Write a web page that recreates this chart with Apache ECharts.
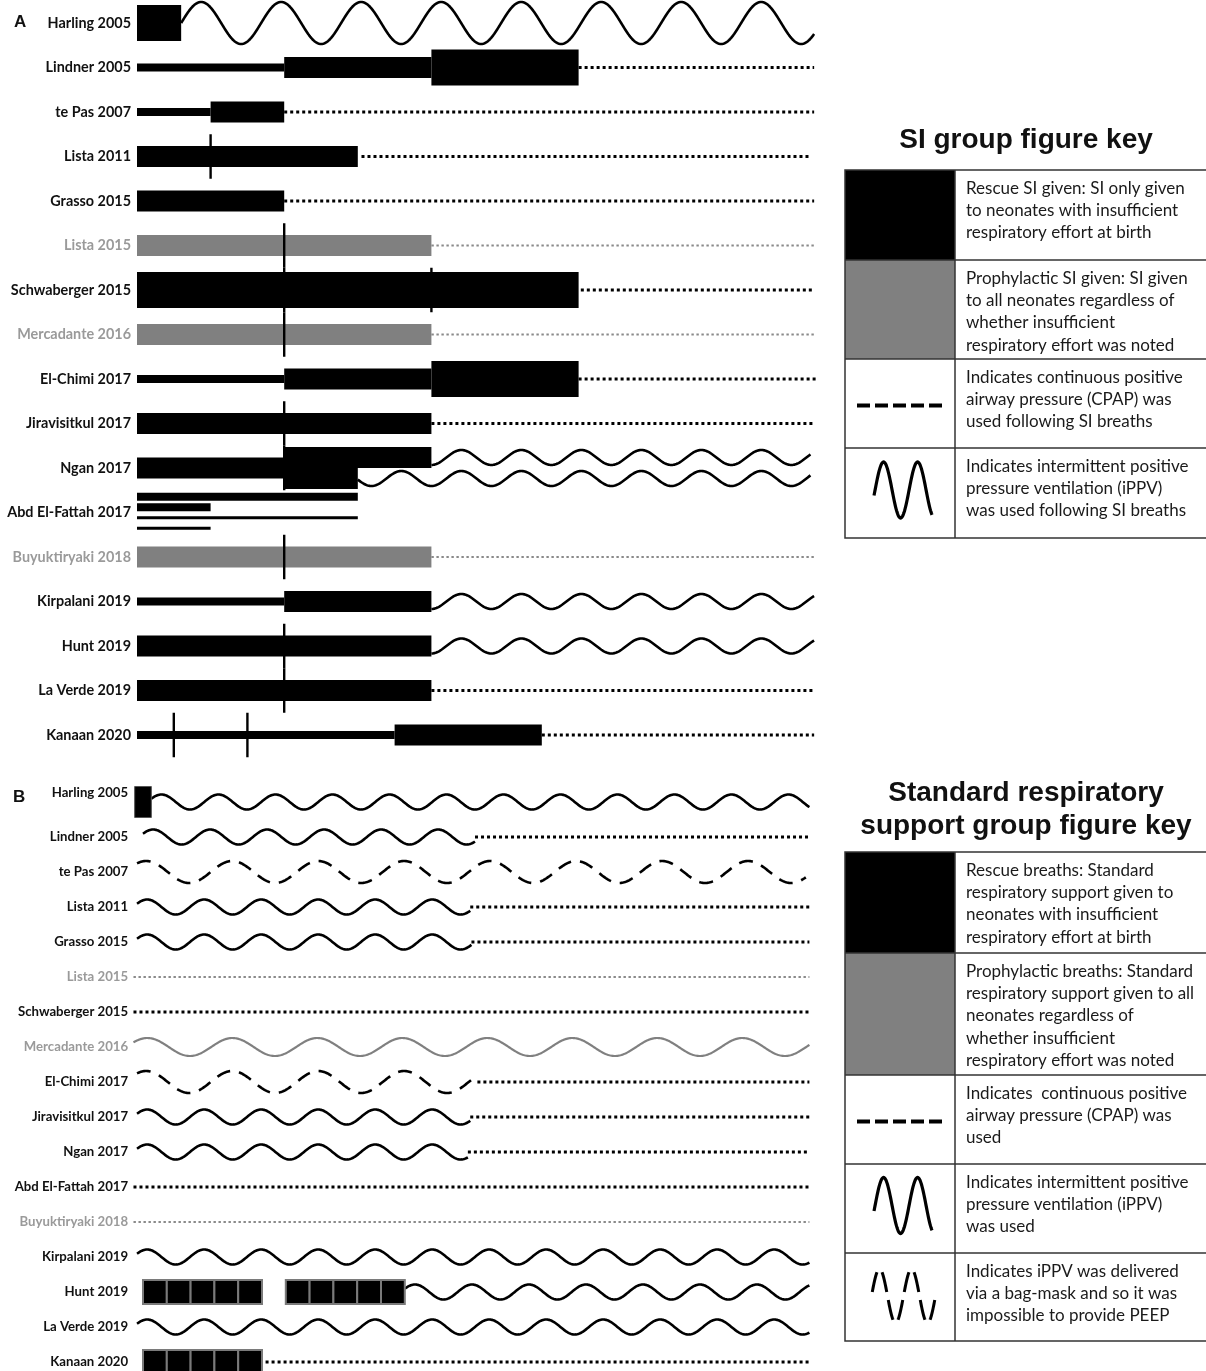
<!DOCTYPE html>
<html>
<head>
<meta charset="utf-8">
<script src="https://cdn.jsdelivr.net/npm/echarts@6/dist/echarts.min.js"></script>
<style>
  html, body { margin: 0; padding: 0; background: #fff; }
  #chart { width: 1206px; height: 1371px; }
</style>
</head>
<body>
<div id="chart"></div>
<script>
// ---------------------------------------------------------------------------
// Studies (rows, top to bottom) and which ones gave breaths prophylactically
// ---------------------------------------------------------------------------
const studies = [
  'Harling 2005', 'Lindner 2005', 'te Pas 2007', 'Lista 2011', 'Grasso 2015',
  'Lista 2015', 'Schwaberger 2015', 'Mercadante 2016', 'El-Chimi 2017',
  'Jiravisitkul 2017', 'Ngan 2017', 'Abd El-Fattah 2017', 'Buyuktiryaki 2018',
  'Kirpalani 2019', 'Hunt 2019', 'La Verde 2019', 'Kanaan 2020'
];
const prophylactic = ['Lista 2015', 'Mercadante 2016', 'Buyuktiryaki 2018'];

// ---------------------------------------------------------------------------
// Panel A – SI group. x = protocol step.
// blocks: [study, from, to, level, sub-row]   level: peep | si | high | line
// ---------------------------------------------------------------------------
const siBlocks = [
  ['Harling 2005', 0, 0.6, 'high', 0],
  ['Lindner 2005', 0, 2, 'peep', 0], ['Lindner 2005', 2, 4, 'si', 0], ['Lindner 2005', 4, 6, 'high', 0],
  ['te Pas 2007', 0, 1, 'peep', 0], ['te Pas 2007', 1, 2, 'si', 0],
  ['Lista 2011', 0, 3, 'si', 0],
  ['Grasso 2015', 0, 2, 'si', 0],
  ['Lista 2015', 0, 4, 'si', 0],
  ['Schwaberger 2015', 0, 6, 'high', 0],
  ['Mercadante 2016', 0, 4, 'si', 0],
  ['El-Chimi 2017', 0, 2, 'peep', 0], ['El-Chimi 2017', 2, 4, 'si', 0], ['El-Chimi 2017', 4, 6, 'high', 0],
  ['Jiravisitkul 2017', 0, 4, 'si', 0],
  ['Ngan 2017', 0, 2, 'si', 0], ['Ngan 2017', 2, 4, 'si', -1], ['Ngan 2017', 2, 3, 'si', 1],
  ['Abd El-Fattah 2017', 0, 3, 'peep', -1.5], ['Abd El-Fattah 2017', 0, 1, 'peep', -0.5],
  ['Abd El-Fattah 2017', 0, 3, 'line', 0.5], ['Abd El-Fattah 2017', 0, 1, 'line', 1.5],
  ['Buyuktiryaki 2018', 0, 4, 'si', 0],
  ['Kirpalani 2019', 0, 2, 'peep', 0], ['Kirpalani 2019', 2, 4, 'si', 0],
  ['Hunt 2019', 0, 4, 'si', 0],
  ['La Verde 2019', 0, 4, 'si', 0],
  ['Kanaan 2020', 0, 3.5, 'peep', 0], ['Kanaan 2020', 3.5, 5.5, 'si', 0]
];
// vertical markers: [study, step]
const siMarkers = [
  ['Lista 2011', 1], ['Lista 2015', 2], ['Schwaberger 2015', 2], ['Schwaberger 2015', 4],
  ['Mercadante 2016', 2], ['Jiravisitkul 2017', 2], ['Ngan 2017', 2], ['Buyuktiryaki 2018', 2],
  ['Hunt 2019', 2], ['La Verde 2019', 2], ['Kanaan 2020', 0.5], ['Kanaan 2020', 1.5]
];
// iPPV after SI: [study, from, to, waveform, sub-row]
const siWaves = [
  ['Harling 2005', 0.6, 9.2, 'large', 0],
  ['Ngan 2017', 4, 9.15, 'ippv', -1],
  ['Ngan 2017', 3, 9.15, 'ippv', 1],
  ['Kirpalani 2019', 4, 9.2, 'ippv', 0],
  ['Hunt 2019', 4, 9.2, 'ippv', 0]
];
// CPAP after SI: [study, from, to]
const siCpap = [
  ['Lindner 2005', 6, 9.2], ['te Pas 2007', 2, 9.2], ['Lista 2011', 3.05, 9.15],
  ['Grasso 2015', 2, 9.2], ['Lista 2015', 4, 9.2], ['Schwaberger 2015', 6.03, 9.2],
  ['Mercadante 2016', 4, 9.2], ['El-Chimi 2017', 6, 9.25], ['Jiravisitkul 2017', 4, 9.2],
  ['Buyuktiryaki 2018', 4, 9.2], ['La Verde 2019', 4, 9.2], ['Kanaan 2020', 5.5, 9.2]
];

// ---------------------------------------------------------------------------
// Panel B – standard respiratory support group. x = breath count.
// ---------------------------------------------------------------------------
const srsRescue = [['Harling 2005', -0.35, 0.35]];
const srsBreaths = [['Hunt 2019', 0, 5], ['Hunt 2019', 6, 11], ['Kanaan 2020', 0, 5]];
// [study, from, to, waveform]
const srsWaves = [
  ['Harling 2005', 0.35, 28, 'ippv'],
  ['Lindner 2005', 0, 13.95, 'ippv'],
  ['te Pas 2007', -0.25, 27.85, 'bagMask'],
  ['Lista 2011', -0.25, 13.75, 'ippv'],
  ['Grasso 2015', -0.25, 13.8, 'ippv'],
  ['Mercadante 2016', -0.4, 28, 'ippvSlow'],
  ['El-Chimi 2017', -0.25, 14.05, 'bagMask'],
  ['Jiravisitkul 2017', -0.25, 13.75, 'ippv'],
  ['Ngan 2017', -0.25, 13.65, 'ippv'],
  ['Kirpalani 2019', -0.25, 28, 'ippv'],
  ['Hunt 2019', 11, 28, 'ippv'],
  ['La Verde 2019', -0.25, 28, 'ippv']
];
const srsCpap = [
  ['Lindner 2005', 13.95, 28], ['Lista 2011', 13.75, 28], ['Grasso 2015', 13.8, 28],
  ['Lista 2015', -0.4, 28], ['Schwaberger 2015', -0.4, 28], ['El-Chimi 2017', 14.05, 28],
  ['Jiravisitkul 2017', 13.75, 28], ['Ngan 2017', 13.65, 28], ['Abd El-Fattah 2017', -0.4, 28],
  ['Buyuktiryaki 2018', -0.4, 28], ['Kanaan 2020', 5.15, 28]
];

// Figure keys
const keySI = [
  'Rescue SI given: SI only given\nto neonates with insufficient\nrespiratory effort at birth',
  'Prophylactic SI given: SI given\nto all neonates regardless of\nwhether insufficient\nrespiratory effort was noted',
  'Indicates continuous positive\nairway pressure (CPAP) was\nused following SI breaths',
  'Indicates intermittent positive\npressure ventilation (iPPV)\nwas used following SI breaths'
];
const keySRS = [
  'Rescue breaths: Standard\nrespiratory support given to\nneonates with insufficient\nrespiratory effort at birth',
  'Prophylactic breaths: Standard\nrespiratory support given to all\nneonates regardless of\nwhether insufficient\nrespiratory effort was noted',
  'Indicates  continuous positive\nairway pressure (CPAP) was\nused',
  'Indicates intermittent positive\npressure ventilation (iPPV)\nwas used',
  'Indicates iPPV was delivered\nvia a bag-mask and so it was\nimpossible to provide PEEP'
];

// ---------------------------------------------------------------------------
// Styling
// ---------------------------------------------------------------------------
const BLACK = '#000';
const GREY = '#808080';
const GREY_DOT = '#8a8a8a';
const LABEL_FONT = "Lato, 'Open Sans', sans-serif";
const KEY_FONT = "Lato, 'Open Sans', sans-serif";
const isProph = s => prophylactic.indexOf(s) >= 0;
const rowOf = s => studies.indexOf(s);
const blockHeight = { peep: 8, si: 21, high: 36, line: 3 };
const SUBROW = 0.236;               // sub-row spacing as a share of the row band
const waveA = {
  large: { period: 80, amp: 21, phase: 0, width: 2.6 },
  ippv:  { period: 60, amp: 7.5, phase: -Math.PI / 2, width: 2.6, anchor: 4 }
};
const waveB = {
  ippv:     { period: 57, amp: 7.5, phase: 0.45, width: 2.6 },
  bagMask:  { period: 86, amp: 11, phase: 0.9, width: 2.6, dash: [14, 9] },
  ippvSlow: { period: 85, amp: 9, phase: 0.54, width: 2.2 }
};

const toData = list => list.map(d => [d[1], d.length > 2 && typeof d[2] === 'number' ? d[2] : d[1], rowOf(d[0])]);

function blockItem(list) {
  return (params, api) => {
    const d = list[params.dataIndex];
    const row = rowOf(d[0]);
    const band = api.size([0, 1])[1];
    const a = api.coord([d[1], row]), b = api.coord([d[2], row]);
    const h = blockHeight[d[3]];
    const cy = a[1] + (d[4] || 0) * SUBROW * band;
    return {
      type: 'rect',
      shape: { x: a[0], y: cy - h / 2, width: b[0] - a[0], height: h },
      style: { fill: isProph(d[0]) ? GREY : BLACK }
    };
  };
}

function markerItem(list) {
  return (params, api) => {
    const d = list[params.dataIndex];
    const row = rowOf(d[0]);
    const band = api.size([0, 1])[1];
    const p = api.coord([d[1], row]);
    return {
      type: 'line',
      shape: { x1: p[0], y1: p[1] - band / 2, x2: p[0], y2: p[1] + band / 2 },
      style: { stroke: BLACK, lineWidth: 2.4 }
    };
  };
}

function cpapItem(list) {
  return (params, api) => {
    const d = list[params.dataIndex];
    const row = rowOf(d[0]);
    const a = api.coord([d[1], row]), b = api.coord([d[2], row]);
    const g = isProph(d[0]);
    return {
      type: 'line',
      shape: { x1: a[0], y1: a[1], x2: b[0], y2: b[1] },
      style: { stroke: g ? GREY_DOT : BLACK, lineWidth: g ? 2.2 : 3, lineDash: g ? [2.4, 2.6] : [3, 3] }
    };
  };
}

function waveItem(list, styles) {
  return (params, api) => {
    const d = list[params.dataIndex];
    const row = rowOf(d[0]);
    const st = styles[d[3]];
    const band = api.size([0, 1])[1];
    const a = api.coord([d[1], row]), b = api.coord([d[2], row]);
    const cy = a[1] + (d[4] || 0) * SUBROW * band;
    const ref = st.anchor != null ? api.coord([st.anchor, row])[0] : a[0];
    const pts = [];
    const yAt = x => cy - st.amp * Math.sin(2 * Math.PI * (x - ref) / st.period + st.phase);
    for (let x = a[0]; x < b[0]; x += 1) pts.push([x, yAt(x)]);
    pts.push([b[0], yAt(b[0])]);
    return {
      type: 'polyline',
      shape: { points: pts },
      style: {
        stroke: isProph(d[0]) ? GREY : BLACK, lineWidth: st.width, fill: null,
        lineDash: st.dash || null, lineJoin: 'round', lineCap: 'butt'
      }
    };
  };
}

function rescueItem(list) {
  return (params, api) => {
    const d = list[params.dataIndex];
    const row = rowOf(d[0]);
    const a = api.coord([d[1], row]), b = api.coord([d[2], row]);
    return {
      type: 'rect',
      shape: { x: a[0], y: a[1] - 15.5, width: b[0] - a[0], height: 31 },
      style: { fill: BLACK, stroke: '#555', lineWidth: 1 }
    };
  };
}

function breathsItem(list) {
  return (params, api) => {
    const d = list[params.dataIndex];
    const row = rowOf(d[0]);
    const children = [];
    for (let k = d[1]; k < d[2]; k++) {
      const p = api.coord([k, row]), q = api.coord([k + 1, row]);
      children.push({
        type: 'rect',
        shape: { x: p[0], y: p[1] - 12, width: q[0] - p[0], height: 24 },
        style: { fill: BLACK, stroke: '#7a7a7a', lineWidth: 2 }
      });
    }
    return { type: 'group', children };
  };
}

function customSeries(name, list, render, axisIndex) {
  return {
    type: 'custom', name, renderItem: render(list), data: toData(list),
    encode: { x: [0, 1], y: 2 }, xAxisIndex: axisIndex, yAxisIndex: axisIndex,
    clip: false, silent: true
  };
}

function labelAxis(gridIndex, size, margin) {
  const base = { fontFamily: LABEL_FONT, fontWeight: 'bold', fontSize: size };
  return {
    gridIndex, type: 'category', data: studies, inverse: true,
    axisLine: { show: false }, axisTick: { show: false }, splitLine: { show: false },
    axisLabel: {
      interval: 0, margin, ...base,
      formatter: (v, i) => {
        if (gridIndex === 1 && i === 0) return '{r|' + v + '}';
        return (isProph(v) ? '{g|' : '{k|') + v + '}';
      },
      rich: {
        k: { ...base, color: '#111' },
        g: { ...base, color: '#9a9a9a' },
        r: { ...base, color: '#111', padding: [0, 0, 18, 0] }
      }
    }
  };
}

// ---------------------------------------------------------------------------
// Figure keys (graphic layer)
// ---------------------------------------------------------------------------
function sineGlyph(x0, x1, cy, amp, period, phase) {
  const pts = [];
  for (let x = x0; x <= x1; x += 0.5) pts.push([x, cy - amp * Math.sin(2 * Math.PI * (x - x0) / period + phase)]);
  return pts;
}
function bagMaskGlyph(x0, x1, cy, amp, period, phase, gap) {
  // quarter-wave strokes, broken (by equal arc length) at every peak, trough and crossing
  const out = [];
  const q = period / 4;
  const yAt = x => cy - amp * Math.sin(2 * Math.PI * (x - x0) / period + phase);
  const b0 = x0 - phase * period / (2 * Math.PI);
  const start = b0 - q * Math.ceil((b0 - x0) / q);
  for (let s = start; s < x1; s += q) {
    const lo = Math.max(x0, s), hi = Math.min(x1, s + q);
    if (hi - lo < 1) continue;
    const samples = [];
    let len = 0, prev = null;
    for (let x = lo; x <= hi + 1e-9; x += 0.25) {
      const p = [x, yAt(x)];
      if (prev) len += Math.hypot(p[0] - prev[0], p[1] - prev[1]);
      samples.push({ p, len });
      prev = p;
    }
    const cutLo = lo > s + 1e-6 ? 0 : gap / 2;
    const cutHi = hi < s + q - 1e-6 ? len : len - gap / 2;
    if (cutHi - cutLo < 6) continue;
    const pts = samples.filter(o => o.len >= cutLo && o.len <= cutHi).map(o => o.p);
    if (pts.length > 1) out.push({ type: 'polyline', shape: { points: pts }, style: { stroke: BLACK, lineWidth: 3, fill: null } });
  }
  return out;
}

function keyTable(title, titleY, bounds, texts, glyphs) {
  const left = 845, right = 1212, split = 955;
  const els = [];
  els.push({
    type: 'text', x: 1026, y: titleY,
    style: {
      text: title, fontFamily: "'Liberation Sans', Arial, sans-serif", fontWeight: 'bold',
      fontSize: 28, lineHeight: 33, fill: '#111', align: 'center', verticalAlign: 'middle'
    }
  });
  els.push({ type: 'rect', shape: { x: left, y: bounds[0], width: split - left, height: bounds[1] - bounds[0] }, style: { fill: BLACK } });
  els.push({ type: 'rect', shape: { x: left, y: bounds[1], width: split - left, height: bounds[2] - bounds[1] }, style: { fill: GREY } });
  els.push({
    type: 'rect', shape: { x: left, y: bounds[0], width: right - left, height: bounds[bounds.length - 1] - bounds[0] },
    style: { fill: null, stroke: '#333', lineWidth: 1.5 }
  });
  for (let i = 1; i < bounds.length - 1; i++) {
    els.push({ type: 'line', shape: { x1: left, y1: bounds[i], x2: right, y2: bounds[i] }, style: { stroke: '#333', lineWidth: 1.5 } });
  }
  els.push({ type: 'line', shape: { x1: split, y1: bounds[0], x2: split, y2: bounds[bounds.length - 1] }, style: { stroke: '#333', lineWidth: 1.5 } });
  texts.forEach((t, i) => {
    els.push({
      type: 'text', x: 966, y: bounds[i] + 7,
      style: { text: t, fontFamily: KEY_FONT, fontSize: 17, lineHeight: 22.3, fill: '#1a1a1a', verticalAlign: 'top' }
    });
  });
  // CPAP dash glyph
  const dashMid = (bounds[2] + bounds[3]) / 2;
  els.push({ type: 'line', shape: { x1: 857, y1: dashMid + 2, x2: 942, y2: dashMid + 2 }, style: { stroke: BLACK, lineWidth: 4, lineDash: [13, 5] } });
  // iPPV glyph
  const waveMid = (bounds[3] + bounds[4]) / 2;
  els.push({ type: 'polyline', shape: { points: sineGlyph(874, 932, waveMid - 3, 28, 34, -0.2) }, style: { stroke: BLACK, lineWidth: 3.2, fill: null } });
  if (glyphs && glyphs.bagMask) {
    const bmMid = (bounds[4] + bounds[5]) / 2;
    bagMaskGlyph(871, 937, bmMid - 1, 27, 32, -0.1, 8).forEach(e => els.push(e));
  }
  return els;
}

const graphics = [
  { type: 'text', x: 14, y: 22, style: { text: 'A', fontFamily: "'Liberation Sans', Arial, sans-serif", fontWeight: 'bold', fontSize: 17, fill: '#111', verticalAlign: 'middle' } },
  { type: 'text', x: 13, y: 797, style: { text: 'B', fontFamily: "'Liberation Sans', Arial, sans-serif", fontWeight: 'bold', fontSize: 17, fill: '#111', verticalAlign: 'middle' } }
]
  .concat(keyTable('SI group figure key', 140, [170, 260, 359, 448, 538], keySI))
  .concat(keyTable('Standard respiratory\nsupport group figure key', 810, [852, 953, 1075, 1164, 1253, 1341], keySRS, { bagMask: true }));

// ---------------------------------------------------------------------------
const chart = echarts.init(document.getElementById('chart'), null, { renderer: 'canvas' });
chart.setOption({
  backgroundColor: '#fff',
  animation: false,
  grid: [
    { left: 137, top: 0.75, width: 684.5, height: 756.5, containLabel: false, outerBoundsMode: 'none' },
    { left: 131.1, top: 784.5, width: 678.3, height: 595, containLabel: false, outerBoundsMode: 'none' }
  ],
  xAxis: [
    { gridIndex: 0, type: 'value', min: 0, max: 9.3, show: false },
    { gridIndex: 1, type: 'value', min: -0.5, max: 28, show: false }
  ],
  yAxis: [labelAxis(0, 14.4, 6), labelAxis(1, 13.2, 3)],
  series: [
    customSeries('CPAP after SI', siCpap, cpapItem, 0),
    customSeries('SI', siBlocks, blockItem, 0),
    customSeries('iPPV after SI', siWaves, l => waveItem(l, waveA), 0),
    customSeries('SI markers', siMarkers, markerItem, 0),
    customSeries('CPAP', srsCpap, cpapItem, 1),
    customSeries('iPPV', srsWaves, l => waveItem(l, waveB), 1),
    customSeries('Rescue breaths', srsRescue, rescueItem, 1),
    customSeries('Breaths', srsBreaths, breathsItem, 1)
  ],
  graphic: graphics
});
</script>
</body>
</html>
